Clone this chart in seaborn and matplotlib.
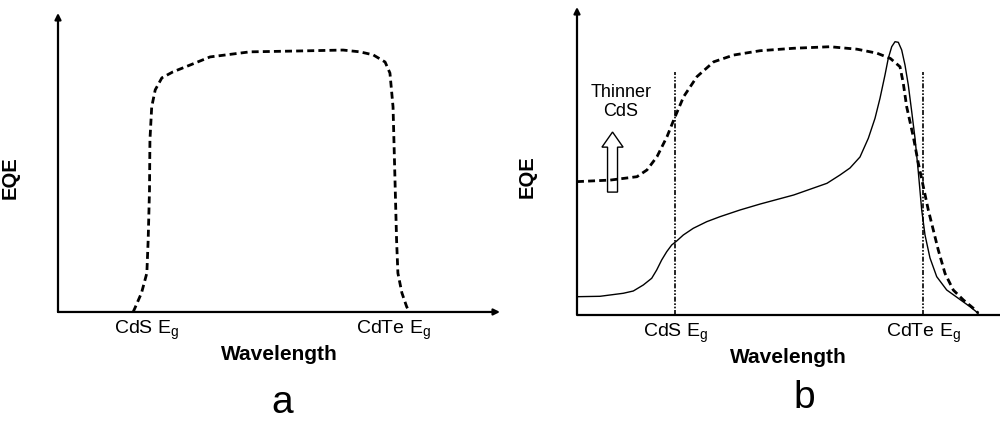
import pandas as pd
import seaborn as sns
import matplotlib
matplotlib.use('Agg')
import matplotlib.pyplot as plt

# --- data (arbitrary units) ---
# panel a: ideal EQE (dashed)
a_wl = [17.0, 17.4, 18.9, 20.1, 20.4, 20.7, 20.8, 21.2, 22.0, 23.5, 26.0, 29.9, 34.4,
        43.4, 54.8, 64.5, 68.3, 71.3, 74.0, 75.1, 75.8, 76.2, 76.6, 76.9, 77.8, 78.9, 79.6]
a_eqe = [0, 1.3, 6.4, 13.0, 24.1, 40.8, 57.5, 68.6, 74.3, 78.3, 80.3, 82.6, 85.3,
         87.0, 87.3, 87.6, 87.0, 86.0, 83.6, 79.9, 68.6, 46.5, 24.1, 13.0, 6.4, 1.7, 0]
a_cds_eg = 20.1
a_cdte_eg = 76.0

# panel b: thinner CdS (dashed) and real device (solid)
b_wl_thin = [0, 7.87, 14.18, 16.55, 18.91, 21.28, 22.86, 25.22, 28.37, 32.32, 37.04, 43.26,
             51.23, 59.81, 66.19, 70.92, 74.07, 76.36, 77.14, 77.94, 79.50, 80.69, 81.87,
             83.05, 84.23, 85.41, 87.0, 88.96, 91.32, 93.69, 94.87]
b_eqe_thin = [43.3, 43.8, 44.9, 47.1, 51.4, 57.9, 63.3, 70.9, 77.4, 82.2, 84.4, 85.8,
              86.6, 87.1, 86.3, 85.0, 83.3, 80.6, 75.2, 67.6, 57.9, 49.3, 41.7,
              34.1, 27.6, 21.1, 13.5, 8.1, 4.9, 2.2, 0.6]
b_wl_real = [0, 5.44, 7.80, 10.95, 13.31, 15.67, 17.66, 18.84, 20.02, 21.21, 22.39, 23.57,
             25.13, 27.49, 30.66, 33.81, 38.53, 43.33, 51.23, 59.1, 62.17, 64.54, 66.9,
             68.87, 70.45, 71.63, 72.81, 73.59, 74.4, 75.18, 75.96, 76.76, 77.54, 78.32,
             79.13, 79.91, 80.69, 81.49, 82.27, 83.45, 85.04, 87.4, 90.14, 92.91, 94.87]
b_eqe_real = [5.94, 6.07, 6.49, 7.05, 7.79, 9.74, 11.92, 14.61, 17.86, 20.55, 22.73, 24.03,
              25.97, 28.15, 30.29, 31.92, 34.09, 36.04, 38.96, 42.76, 45.45, 47.73, 51.3,
              57.37, 63.86, 70.36, 77.92, 83.34, 87.11, 88.73, 88.54, 86.04, 81.17, 74.68,
              66.01, 57.37, 46.43, 34.09, 25.97, 18.51, 12.44, 8.12, 5.42, 2.69, 0.55]
b_cds_eg = 23.24
b_cdte_eg = 81.87
b_eg_line_top = 78.9
arrow_x, arrow_y0, arrow_y1 = 8.4, 39.9, 59.4

tick_labels = ['CdS E$_\\mathregular{g}$', 'CdTe E$_\\mathregular{g}$']

sns.set_style('white')
plt.rcParams['font.family'] = ['Liberation Sans', 'DejaVu Sans']
plt.rcParams['mathtext.fontset'] = 'custom'
plt.rcParams['mathtext.rm'] = 'Liberation Sans'
plt.rcParams['text.color'] = 'black'
plt.rcParams['axes.labelcolor'] = 'black'
plt.rcParams['xtick.color'] = 'black'

df_a = pd.DataFrame({'wl': a_wl, 'eqe': a_eqe})
df_thin = pd.DataFrame({'wl': b_wl_thin, 'eqe': b_eqe_thin})
df_real = pd.DataFrame({'wl': b_wl_real, 'eqe': b_eqe_real})

fig = plt.figure(figsize=(10, 4.24), dpi=100)
ax_a = fig.add_axes([0.058, 0.2642, 0.442, 0.7052])
ax_b = fig.add_axes([0.577, 0.2571, 0.423, 0.7264])


def style_axes(ax, x_arrow=True):
    ax.set_xlim(0, 100)
    ax.set_ylim(0, 100)
    for s in ax.spines.values():
        s.set_visible(False)
    ax.set_yticks([])
    ax.annotate('', xy=(0, 1), xytext=(0, 0), xycoords='axes fraction',
                arrowprops=dict(arrowstyle='-|>', lw=1.6, color='k',
                                mutation_scale=9, shrinkA=0, shrinkB=0))
    if x_arrow:
        ax.annotate('', xy=(1, 0), xytext=(0, 0), xycoords='axes fraction',
                    arrowprops=dict(arrowstyle='-|>', lw=1.6, color='k',
                                    mutation_scale=9, shrinkA=0, shrinkB=0))
    else:
        ax.plot([0, 1], [0, 0], color='k', lw=1.6, transform=ax.transAxes,
                clip_on=False, solid_capstyle='butt')
    ax.tick_params(axis='x', length=0, pad=5, labelsize=14)
    ax.set_xlabel('Wavelength', fontsize=15, fontweight='bold', labelpad=2)
    ax.set_ylabel('EQE', fontsize=14.5, fontweight='bold')


# panel a
sns.lineplot(data=df_a, x='wl', y='eqe', ax=ax_a, sort=False, estimator=None,
             color='k', lw=2)
ax_a.lines[-1].set_dashes((2.5, 1.5))
style_axes(ax_a)
ax_a.set_xticks([a_cds_eg, a_cdte_eg])
ax_a.set_xticklabels(tick_labels)
ax_a.yaxis.set_label_coords(-0.087, 0.45)

# panel b
sns.lineplot(data=df_thin, x='wl', y='eqe', ax=ax_b, sort=False, estimator=None,
             color='k', lw=2)
ax_b.lines[-1].set_dashes((2.5, 1.5))
sns.lineplot(data=df_real, x='wl', y='eqe', ax=ax_b, sort=False, estimator=None,
             color='k', lw=1.0)
for xv in [b_cds_eg, b_cdte_eg]:
    ax_b.plot([xv, xv], [0, b_eg_line_top], color='k', lw=1.2,
              linestyle=(0, (3, 1, 1, 1, 1, 1)))
style_axes(ax_b, x_arrow=False)
ax_b.set_xticks([b_cds_eg, b_cdte_eg])
ax_b.set_xticklabels(tick_labels)
ax_b.yaxis.set_label_coords(-0.095, 0.45)

ax_b.arrow(arrow_x, arrow_y0, 0, arrow_y1 - arrow_y0, width=2.36, head_width=5.0,
           head_length=4.9, length_includes_head=True, facecolor='white',
           edgecolor='k', lw=1.0)
ax_b.text(10.4, 69.2, 'Thinner\nCdS', ha='center', va='center', fontsize=13,
          linespacing=1.15)

fig.text(0.282, 0.0495, 'a', ha='center', va='center', fontsize=28)
fig.text(0.804, 0.0625, 'b', ha='center', va='center', fontsize=28)

fig.savefig('out.png', dpi=100)
